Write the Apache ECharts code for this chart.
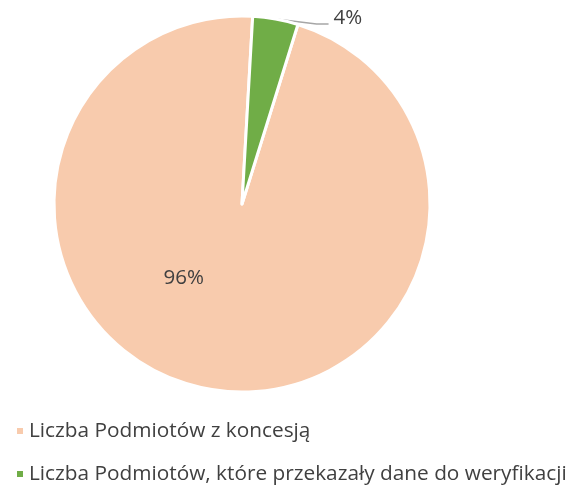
<!DOCTYPE html>
<html><head><meta charset="utf-8">
<script src="https://cdn.jsdelivr.net/npm/echarts@6/dist/echarts.min.js"></script>
<style>html,body{margin:0;padding:0;background:#fff}#c{width:573px;height:487px}</style>
</head><body><div id="c"></div>
<script>
const categories = ['Liczba Podmiotów z koncesją', 'Liczba Podmiotów, które przekazały dane do weryfikacji'];
const values = [96.1, 3.9];
const colors = ['#F8CBAD', '#70AD47'];

const chart = echarts.init(document.getElementById('c'));
const data = categories.map((n, i) => ({ name: n, value: values[i], itemStyle: { color: colors[i] } }));
data[0].label = { position: 'inside' };
data[0].labelLine = { show: false };
chart.setOption({
  animation: false,
  legend: {
    orient: 'vertical', left: 15, top: 420, height: 67, padding: 0, icon: 'rect', itemWidth: 8, itemHeight: 8, itemGap: 21,
    textStyle: { fontFamily: 'Open Sans', fontSize: 20.8, color: '#404040', lineHeight: 22 },
    data: categories
  },
  series: [{
    type: 'pie', center: [242, 204], radius: 188, startAngle: 72.7, clockwise: true,
    itemStyle: { borderColor: '#fff', borderWidth: 3 },
    label: {
      fontFamily: 'Open Sans', fontSize: 20.5, color: '#404040',
      formatter: p => Math.round(p.percent) + '%'
    },
    labelLine: { lineStyle: { color: '#A6A6A6', width: 1.5 }, length: 10, length2: 10 },
    labelLayout: function (params) {
      if (params.dataIndex === 0) return { dx: -41, dy: -21 };
      const p0 = params.labelLinePoints ? params.labelLinePoints[0] : [276, 20];
      return {
        x: p0[0] + 58, y: p0[1] - 1, align: 'left', verticalAlign: 'middle',
        labelLinePoints: [p0, [p0[0] + 41, p0[1] + 5], [p0[0] + 53, p0[1] + 5]]
      };
    },
    data: data
  }]
});
</script></body></html>
